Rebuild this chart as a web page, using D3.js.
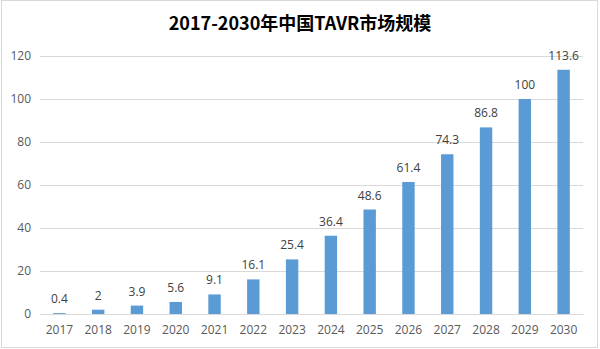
<!DOCTYPE html>
<html>
<head>
<meta charset="utf-8">
<script src="https://cdn.jsdelivr.net/npm/d3@7"></script>
<style>
  body { margin: 0; background: #fff; }
  svg { display: block; }
</style>
</head>
<body>
<svg id="chart" width="600" height="349"></svg>
<script>
var years = ["2017", "2018", "2019", "2020", "2021", "2022", "2023", "2024", "2025", "2026", "2027", "2028", "2029", "2030"];
var market = [0.4, 2, 3.9, 5.6, 9.1, 16.1, 25.4, 36.4, 48.6, 61.4, 74.3, 86.8, 100, 113.6];
var y_ticks = [0, 20, 40, 60, 80, 100, 120];
var title = "2017-2030年中国TAVR市场规模";

var svg = d3.select("#chart");
var font = "'Open Sans', 'Noto Sans CJK SC', sans-serif";

// outer frame
svg.append("rect")
  .attr("x", 1.5).attr("y", 0.5)
  .attr("width", 596).attr("height", 347)
  .attr("fill", "#fff")
  .attr("stroke", "#d9d9d9");

var x = d3.scaleBand().domain(years).range([40, 583]).paddingInner(0.68).paddingOuter(0.34);
var y = d3.scaleLinear().domain([0, 120]).range([314, 56]);

// gridlines
svg.append("g")
  .attr("transform", "translate(40,0)")
  .call(d3.axisLeft(y).tickValues(y_ticks).tickSize(-543).tickFormat(""))
  .call(function (g) {
    g.select(".domain").remove();
    g.selectAll(".tick line").attr("stroke", "#d9d9d9");
  });

// y labels
svg.append("g")
  .attr("transform", "translate(40,0)")
  .call(d3.axisLeft(y).tickValues(y_ticks).tickSize(0).tickPadding(9))
  .call(function (g) {
    g.select(".domain").remove();
    g.selectAll("text").attr("fill", "#595959").style("font-size", "12px").style("font-family", font);
  });

// bars
svg.append("g").selectAll("rect")
  .data(market)
  .join("rect")
  .attr("x", function (d, i) { return x(years[i]); })
  .attr("y", function (d) { return y(d); })
  .attr("width", x.bandwidth())
  .attr("height", function (d) { return y(0) - y(d); })
  .attr("fill", "#5b9bd5");

// value labels
svg.append("g").selectAll("text")
  .data(market)
  .join("text")
  .attr("x", function (d, i) { return x(years[i]) + x.bandwidth() / 2; })
  .attr("y", function (d) { return y(d) - 10; })
  .attr("text-anchor", "middle")
  .attr("fill", "#404040")
  .style("font-size", "12px")
  .style("font-family", font)
  .text(function (d) { return d; });

// x axis
svg.append("g")
  .attr("transform", "translate(0,314)")
  .call(d3.axisBottom(x).tickSize(0).tickPadding(11))
  .call(function (g) {
    g.select(".domain").attr("stroke", "#d9d9d9");
    g.selectAll("text").attr("fill", "#595959").style("font-size", "12px").style("font-family", font);
  });

// title
svg.append("text")
  .attr("x", 300).attr("y", 30)
  .attr("text-anchor", "middle")
  .attr("fill", "#000")
  .style("font-size", "18px")
  .style("font-weight", "bold")
  .style("font-family", "'Noto Sans CJK SC', sans-serif")
  .text(title);
</script>
</body>
</html>
